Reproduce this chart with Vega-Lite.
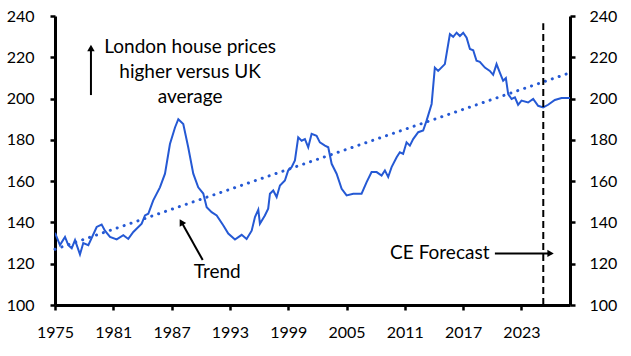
{
  "$schema": "https://vega.github.io/schema/vega-lite/v6.json",
  "width": 515,
  "height": 289,
  "autosize": {"type": "none"},
  "padding": {"left": 55, "top": 16, "right": 61, "bottom": 51},
  "background": "white",
  "config": {
    "view": {"stroke": null},
    "font": "Lato",
    "axis": {
      "domainColor": "black",
      "domainWidth": 3,
      "tickColor": "black",
      "tickWidth": 2.5,
      "tickSize": 5,
      "labelFont": "Lato",
      "labelFontSize": 16,
      "labelColor": "black",
      "grid": false,
      "title": null
    }
  },
  "datasets": {
    "series": [
      {"year": 1975.00, "value": 135},
      {"year": 1975.51, "value": 129},
      {"year": 1976.03, "value": 133},
      {"year": 1976.37, "value": 129},
      {"year": 1976.72, "value": 127.5},
      {"year": 1977.06, "value": 131.4},
      {"year": 1977.57, "value": 124.5},
      {"year": 1977.91, "value": 130},
      {"year": 1978.43, "value": 129},
      {"year": 1979.29, "value": 137.8},
      {"year": 1979.80, "value": 139},
      {"year": 1980.14, "value": 136},
      {"year": 1980.66, "value": 133},
      {"year": 1981.35, "value": 131.8},
      {"year": 1982.03, "value": 133.8},
      {"year": 1982.54, "value": 132},
      {"year": 1983.06, "value": 135.4},
      {"year": 1983.92, "value": 139.4},
      {"year": 1984.26, "value": 143.4},
      {"year": 1984.60, "value": 144.2},
      {"year": 1985.11, "value": 150.7},
      {"year": 1985.80, "value": 157},
      {"year": 1986.32, "value": 163.6},
      {"year": 1986.83, "value": 178},
      {"year": 1987.35, "value": 186},
      {"year": 1987.69, "value": 190},
      {"year": 1988.20, "value": 187.7},
      {"year": 1988.71, "value": 176.4},
      {"year": 1989.23, "value": 163.6},
      {"year": 1989.74, "value": 157},
      {"year": 1990.26, "value": 154},
      {"year": 1990.61, "value": 147.4},
      {"year": 1991.12, "value": 145},
      {"year": 1991.64, "value": 143.4},
      {"year": 1992.31, "value": 138.6},
      {"year": 1992.83, "value": 134.6},
      {"year": 1993.52, "value": 131.7},
      {"year": 1994.21, "value": 134},
      {"year": 1994.72, "value": 132},
      {"year": 1995.24, "value": 136},
      {"year": 1995.58, "value": 142.6},
      {"year": 1995.92, "value": 146.2},
      {"year": 1996.09, "value": 139.4},
      {"year": 1996.60, "value": 143.4},
      {"year": 1996.94, "value": 146.7},
      {"year": 1997.12, "value": 153.9},
      {"year": 1997.46, "value": 155.5},
      {"year": 1997.81, "value": 152.3},
      {"year": 1998.15, "value": 157.9},
      {"year": 1998.66, "value": 160.3},
      {"year": 1999.00, "value": 165.2},
      {"year": 1999.35, "value": 166.8},
      {"year": 1999.69, "value": 170},
      {"year": 2000.03, "value": 181.2},
      {"year": 2000.38, "value": 179.6},
      {"year": 2000.72, "value": 180.4},
      {"year": 2001.06, "value": 176.4},
      {"year": 2001.41, "value": 182.9},
      {"year": 2001.92, "value": 182},
      {"year": 2002.26, "value": 178.8},
      {"year": 2002.78, "value": 177.2},
      {"year": 2003.12, "value": 176.4},
      {"year": 2003.47, "value": 168.4},
      {"year": 2003.98, "value": 163.6},
      {"year": 2004.50, "value": 156.3},
      {"year": 2005.01, "value": 153.1},
      {"year": 2005.69, "value": 153.9},
      {"year": 2006.55, "value": 153.9},
      {"year": 2007.07, "value": 159.5},
      {"year": 2007.58, "value": 164.4},
      {"year": 2008.10, "value": 164.4},
      {"year": 2008.61, "value": 162.7},
      {"year": 2008.95, "value": 165.2},
      {"year": 2009.29, "value": 162},
      {"year": 2009.64, "value": 166.8},
      {"year": 2010.16, "value": 171.6},
      {"year": 2010.49, "value": 174},
      {"year": 2010.83, "value": 173.2},
      {"year": 2011.18, "value": 178.8},
      {"year": 2011.52, "value": 177.2},
      {"year": 2011.86, "value": 180.4},
      {"year": 2012.38, "value": 183.7},
      {"year": 2012.89, "value": 184.5},
      {"year": 2013.24, "value": 189.3},
      {"year": 2013.76, "value": 197.4},
      {"year": 2014.09, "value": 215},
      {"year": 2014.43, "value": 213.4},
      {"year": 2015.12, "value": 216.7},
      {"year": 2015.64, "value": 231.2},
      {"year": 2015.98, "value": 229.9},
      {"year": 2016.33, "value": 231.9},
      {"year": 2016.67, "value": 230.3},
      {"year": 2017.01, "value": 231.9},
      {"year": 2017.36, "value": 229.5},
      {"year": 2017.70, "value": 224},
      {"year": 2018.04, "value": 223.4},
      {"year": 2018.38, "value": 218.3},
      {"year": 2018.72, "value": 217.8},
      {"year": 2019.24, "value": 215},
      {"year": 2019.75, "value": 213.4},
      {"year": 2020.09, "value": 211.5},
      {"year": 2020.44, "value": 216.7},
      {"year": 2020.78, "value": 212.6},
      {"year": 2021.12, "value": 208.6},
      {"year": 2021.40, "value": 209.9},
      {"year": 2021.64, "value": 202.2},
      {"year": 2021.99, "value": 199.8},
      {"year": 2022.33, "value": 200.6},
      {"year": 2022.66, "value": 197},
      {"year": 2023.01, "value": 199},
      {"year": 2023.69, "value": 198.1},
      {"year": 2024.21, "value": 199.8},
      {"year": 2024.72, "value": 196.5},
      {"year": 2025.24, "value": 195.7},
      {"year": 2025.75, "value": 197},
      {"year": 2026.44, "value": 199.3},
      {"year": 2027.13, "value": 200.3},
      {"year": 2028.00, "value": 200.3}
    ],
    "trend": [
      {"year": 1975, "value": 127},
      {"year": 2028, "value": 212.5}
    ],
    "forecast": [
      {"year": 2025.25, "y1": 100, "y2": 236.5}
    ],
    "arrows": [
      {"x1": 1978.7, "y1": 201.7, "x2": 1978.7, "y2": 224.5},
      {"x1": 1990.2, "y1": 121.8, "x2": 1988.1, "y2": 139.5},
      {"x1": 2020.27, "y1": 125, "x2": 2025.9, "y2": 125}
    ],
    "heads": [
      {"x": 1978.7, "y": 224.5, "angle": 0},
      {"x": 1988.0, "y": 140.2, "angle": 330},
      {"x": 2026.0, "y": 125, "angle": 90}
    ],
    "labels": [
      {"x": 1988.9, "y": 225, "text": "London house prices"},
      {"x": 1988.9, "y": 212.9, "text": "higher versus UK"},
      {"x": 1988.9, "y": 200.8, "text": "average"},
      {"x": 1991.7, "y": 116, "text": "Trend"},
      {"x": 2014.6, "y": 125, "text": "CE Forecast"}
    ]
  },
  "layer": [
    {
      "data": {"name": "series"},
      "mark": {"type": "line", "color": "#2559d4", "strokeWidth": 2, "clip": true},
      "encoding": {
        "x": {
          "field": "year", "type": "quantitative",
          "scale": {"domain": [1975, 2028], "nice": false, "zero": false},
          "axis": {"values": [1975, 1981, 1987, 1993, 1999, 2005, 2011, 2017, 2023], "format": "d", "labelPadding": 14, "labelFlush": false}
        },
        "y": {
          "field": "value", "type": "quantitative",
          "scale": {"domain": [100, 240], "nice": false, "zero": false},
          "axis": {"orient": "left", "values": [100, 120, 140, 160, 180, 200, 220, 240], "labelPadding": 16}
        }
      }
    },
    {
      "data": {"name": "trend"},
      "mark": {"type": "line", "color": "#2559d4", "strokeWidth": 3, "strokeDash": [0.1, 7.2], "strokeCap": "round"},
      "encoding": {
        "x": {"field": "year", "type": "quantitative"},
        "y": {
          "field": "value", "type": "quantitative",
          "axis": {"orient": "right", "values": [100, 120, 140, 160, 180, 200, 220, 240], "labelPadding": 14}
        }
      }
    },
    {
      "data": {"name": "forecast"},
      "mark": {"type": "rule", "color": "black", "strokeWidth": 2, "strokeDash": [7, 4]},
      "encoding": {
        "x": {"field": "year", "type": "quantitative"},
        "y": {"field": "y1", "type": "quantitative", "axis": null},
        "y2": {"field": "y2"}
      }
    },
    {
      "data": {"name": "arrows"},
      "mark": {"type": "rule", "color": "black", "strokeWidth": 2},
      "encoding": {
        "x": {"field": "x1", "type": "quantitative"},
        "x2": {"field": "x2"},
        "y": {"field": "y1", "type": "quantitative", "axis": null},
        "y2": {"field": "y2"}
      }
    },
    {
      "data": {"name": "heads"},
      "mark": {"type": "point", "shape": "triangle-up", "filled": true, "color": "black", "opacity": 1, "size": 55},
      "encoding": {
        "x": {"field": "x", "type": "quantitative"},
        "y": {"field": "y", "type": "quantitative", "axis": null},
        "angle": {"field": "angle", "type": "quantitative", "scale": null}
      }
    },
    {
      "data": {"name": "labels"},
      "mark": {"type": "text", "font": "Lato", "fontSize": 19, "color": "black", "baseline": "middle", "align": "center"},
      "encoding": {
        "x": {"field": "x", "type": "quantitative"},
        "y": {"field": "y", "type": "quantitative", "axis": null},
        "text": {"field": "text"}
      }
    }
  ],
  "resolve": {"axis": {"y": "independent"}}
}
